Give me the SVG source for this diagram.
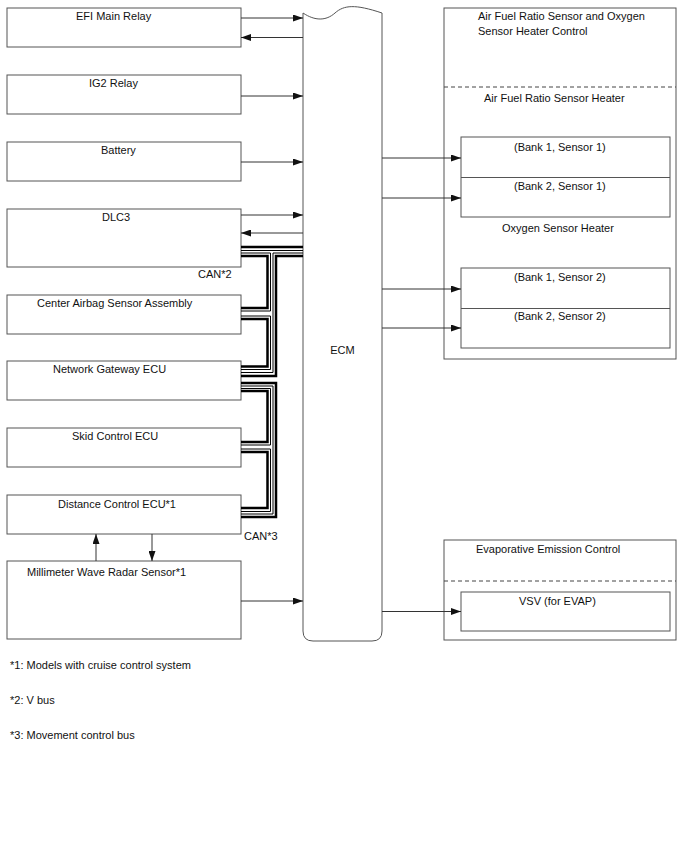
<svg xmlns="http://www.w3.org/2000/svg" width="688" height="852" viewBox="0 0 688 852">
<defs>
<marker id="ah" markerWidth="10" markerHeight="7" refX="10" refY="3.5" orient="auto" markerUnits="userSpaceOnUse"><path d="M0,0 L10,3.5 L0,7 z" fill="#111"/></marker>
<style>
.box{fill:#fff;stroke:#555;stroke-width:1}
.grp{fill:none;stroke:#555;stroke-width:1}
.dash{stroke:#444;stroke-width:1;stroke-dasharray:4,3;fill:none}
.t{font-family:"Liberation Sans",Arial,sans-serif;font-size:11px;fill:#111}
.ar{stroke:#333;stroke-width:1;fill:none;marker-end:url(#ah)}
.ln{stroke:#555;stroke-width:1;fill:none}
.bk{stroke:#000;stroke-width:2.5;fill:none}
.bn{stroke:#000;stroke-width:1;fill:none}
</style>
</defs>
<rect width="688" height="852" fill="#fff"/>

<g id="ecm">
<path class="box" d="M303,13 C315,21 326,21 335,13 C344,5 355,4 382,13 L382,631 Q382,641 372,641 L313,641 Q303,641 303,631 Z"/>
<text class="t" x="342.5" y="354" text-anchor="middle">ECM</text>
</g>

<g id="efi"><rect class="box" x="7" y="8" width="234" height="39"/><text class="t" x="76" y="20">EFI Main Relay</text></g>
<g id="ig2"><rect class="box" x="7" y="75" width="234" height="39"/><text class="t" x="89" y="87">IG2 Relay</text></g>
<g id="battery"><rect class="box" x="7" y="142" width="234" height="39"/><text class="t" x="101" y="154">Battery</text></g>
<g id="dlc3"><rect class="box" x="7" y="209" width="234" height="58"/><text class="t" x="102" y="221">DLC3</text></g>
<g id="airbag"><rect class="box" x="7" y="295" width="234" height="39"/><text class="t" x="37" y="307">Center Airbag Sensor Assembly</text></g>
<g id="gateway"><rect class="box" x="7" y="361" width="234" height="39"/><text class="t" x="53" y="373">Network Gateway ECU</text></g>
<g id="skid"><rect class="box" x="7" y="428" width="234" height="39"/><text class="t" x="72" y="440">Skid Control ECU</text></g>
<g id="distance"><rect class="box" x="7" y="495" width="234" height="39"/><text class="t" x="58" y="508">Distance Control ECU*1</text></g>
<g id="radar"><rect class="box" x="7" y="561" width="234" height="78"/><text class="t" x="27" y="576">Millimeter Wave Radar Sensor*1</text></g>

<g id="afr-group">
<rect class="grp" x="444" y="8" width="232" height="351"/>
<text class="t" x="478" y="20">Air Fuel Ratio Sensor and Oxygen</text>
<text class="t" x="478" y="35">Sensor Heater Control</text>
<line class="dash" x1="444" y1="87" x2="676" y2="87"/>
<text class="t" x="484" y="102">Air Fuel Ratio Sensor Heater</text>
<text class="t" x="502" y="232">Oxygen Sensor Heater</text>
</g>
<g id="afr-heater"><rect class="box" x="461" y="137" width="209" height="80"/><line class="ln" x1="461" y1="177.5" x2="670" y2="177.5"/>
<text class="t" x="514" y="151">(Bank 1, Sensor 1)</text><text class="t" x="514" y="190">(Bank 2, Sensor 1)</text></g>
<g id="o2-heater"><rect class="box" x="461" y="268" width="209" height="80"/><line class="ln" x1="461" y1="308.5" x2="670" y2="308.5"/>
<text class="t" x="514" y="281">(Bank 1, Sensor 2)</text><text class="t" x="514" y="320">(Bank 2, Sensor 2)</text></g>

<g id="evap-group">
<rect class="grp" x="444" y="540" width="232" height="100"/>
<text class="t" x="476" y="553">Evaporative Emission Control</text>
<line class="dash" x1="444" y1="581" x2="676" y2="581"/>
</g>
<g id="vsv"><rect class="box" x="461" y="592" width="209" height="39"/><text class="t" x="519" y="605">VSV (for EVAP)</text></g>

<g id="connectors">
<line class="ar" x1="241" y1="18" x2="303" y2="18"/>
<line class="ar" x1="303" y1="37.5" x2="241" y2="37.5"/>
<line class="ar" x1="241" y1="96" x2="303" y2="96"/>
<line class="ar" x1="241" y1="162" x2="303" y2="162"/>
<line class="ar" x1="241" y1="215" x2="303" y2="215"/>
<line class="ar" x1="303" y1="233" x2="241" y2="233"/>
<line class="ar" x1="241" y1="601" x2="303" y2="601"/>
<line class="ar" x1="96" y1="561" x2="96" y2="534"/>
<line class="ar" x1="152" y1="534" x2="152" y2="561"/>
<line class="ar" x1="382" y1="158" x2="461" y2="158"/>
<line class="ar" x1="382" y1="198" x2="461" y2="198"/>
<line class="ar" x1="382" y1="289" x2="461" y2="289"/>
<line class="ar" x1="382" y1="328" x2="461" y2="328"/>
<line class="ar" x1="382" y1="611.5" x2="461" y2="611.5"/>

<g id="can-v-bus">
<path class="bk" d="M241,247 H303"/>
<path class="bn" d="M241,250.5 H303"/>
<path class="bn" d="M241,253 H270.5 V311 H241"/>
<path class="bk" d="M241,256 H267.5 V308 H241"/>
<path class="bn" d="M303,253 H273 V372.5 H241"/>
<path class="bk" d="M303,256 H276 V376 H241"/>
<path class="bn" d="M241,316 H270.5 V369.5 H241"/>
<path class="bk" d="M241,319 H267.5 V366.5 H241"/>
</g>
<g id="can-movement-bus">
<path class="bk" d="M241,383 H276 V517 H241"/>
<path class="bn" d="M241,386 H273 V514 H241"/>
<path class="bn" d="M241,388.5 H270.5 V445 H241"/>
<path class="bk" d="M241,391 H267.5 V442 H241"/>
<path class="bn" d="M241,449 H270.5 V511.5 H241"/>
<path class="bk" d="M241,452 H267.5 V508 H241"/>
</g>
<text class="t" x="198" y="278">CAN*2</text>
<text class="t" x="244" y="540">CAN*3</text>
</g>

<g id="notes">
<text class="t" x="10" y="669">*1: Models with cruise control system</text>
<text class="t" x="10" y="704">*2: V bus</text>
<text class="t" x="10" y="739">*3: Movement control bus</text>
</g>
</svg>
